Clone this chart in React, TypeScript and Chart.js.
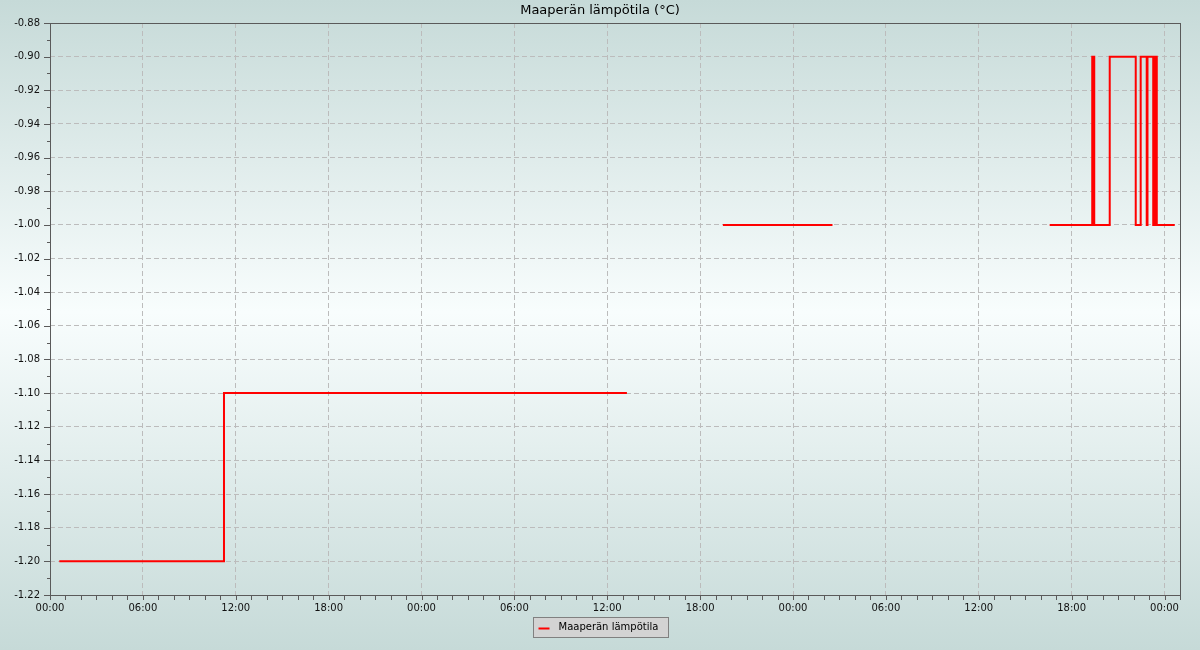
import React, { useEffect, useRef } from 'react';
import { Chart, registerables } from 'chart.js';

Chart.register(...registerables);

const TITLE = 'Maaperän lämpötila (°C)';
const SERIES_LABEL = 'Maaperän lämpötila';

// Hours since 00:00 of the first day (change points of the stepped series)
const times = [0.6, 11.24, 37.27, 37.3, 43.47, 50.55, 50.6, 64.58, 67.33, 67.46, 68.46, 70.14, 70.46, 70.85, 70.9, 71.27, 71.4, 71.5, 72.66];
const values: (number | null)[] = [-1.2, -1.1, -1.1, null, -1.0, -1.0, null, -1.0, -0.9, -1.0, -0.9, -1.0, -0.9, -1.0, -0.9, -1.0, -0.9, -1.0, -1.0];

const X_MIN = 0;
const X_MAX = 73;
const X_MAJOR_HOURS = 6;
const Y_MIN = -1.22;
const Y_MAX = -0.88;
const Y_STEP = 0.01;

const FONT = 'DejaVu Sans';

const isXMajor = (v: number) => Math.round(v) % X_MAJOR_HOURS === 0 && Math.abs(v - Math.round(v)) < 1e-6;
const isYMajor = (v: number) => Math.round(v * 100) % 2 === 0;

const decorPlugin = {
  id: 'decor',
  afterDraw(chart: any) {
    const { ctx, chartArea } = chart;
    const xs = chart.scales.x;
    const ys = chart.scales.y;
    ctx.save();
    // frame
    ctx.strokeStyle = '#5a5a5a';
    ctx.lineWidth = 1;
    ctx.strokeRect(Math.round(chartArea.left) + 0.5, Math.round(chartArea.top) + 0.5,
      Math.round(chartArea.right - chartArea.left), Math.round(chartArea.bottom - chartArea.top));
    // x ticks
    ctx.beginPath();
    xs.ticks.forEach((t: any) => {
      const px = Math.round(xs.getPixelForValue(t.value)) + 0.5;
      ctx.moveTo(px, Math.round(chartArea.bottom) + 0.5);
      ctx.lineTo(px, Math.round(chartArea.bottom) + 5);
    });
    // y ticks
    ys.ticks.forEach((t: any) => {
      const py = Math.round(ys.getPixelForValue(t.value)) + 0.5;
      const len = isYMajor(t.value) ? 6 : 3;
      ctx.moveTo(Math.round(chartArea.left) + 0.5, py);
      ctx.lineTo(Math.round(chartArea.left) - len, py);
    });
    ctx.stroke();

    // title
    ctx.fillStyle = '#000';
    ctx.font = `13px "${FONT}"`;
    ctx.textAlign = 'center';
    ctx.textBaseline = 'middle';
    ctx.fillText(TITLE, chart.width / 2, 11);

    // legend
    const ds = chart.data.datasets[0];
    ctx.font = `10px "${FONT}"`;
    const tw = ctx.measureText(ds.label).width;
    const boxW = Math.round(5 + 11 + 9 + tw + 10);
    const boxH = 20;
    const bx = Math.round(chart.width / 2 - boxW / 2) + 0.5;
    const by = 617.5;
    ctx.fillStyle = '#d3d3d3';
    ctx.fillRect(bx, by, boxW, boxH);
    ctx.strokeStyle = '#808080';
    ctx.strokeRect(bx, by, boxW, boxH);
    ctx.strokeStyle = ds.borderColor;
    ctx.lineWidth = 2;
    ctx.beginPath();
    ctx.moveTo(bx + 5, by + 11);
    ctx.lineTo(bx + 16, by + 11);
    ctx.stroke();
    ctx.fillStyle = '#000';
    ctx.textAlign = 'left';
    ctx.fillText(ds.label, bx + 25, by + 10);
    ctx.restore();
  },
};

export default function App() {
  const ref = useRef<HTMLCanvasElement | null>(null);

  useEffect(() => {
    if (!ref.current) return;
    const data = times.map((t, i) => ({ x: t, y: values[i] }));
    const chart = new Chart(ref.current, {
      type: 'line',
      data: {
        datasets: [
          {
            label: SERIES_LABEL,
            data: data as any,
            borderColor: '#ff0000',
            backgroundColor: '#ff0000',
            borderWidth: 2,
            pointRadius: 0,
            stepped: 'before',
            spanGaps: false,
            fill: false,
          },
        ],
      },
      options: {
        responsive: false,
        animation: false,
        layout: { padding: { top: 23, right: 20, bottom: 0, left: 0 } },
        plugins: {
          legend: { display: false },
          title: { display: false },
          tooltip: { enabled: false },
        },
        scales: {
          x: {
            type: 'linear',
            min: X_MIN,
            max: X_MAX,
            afterFit: (s: any) => { s.height = 55; },
            border: { display: false, dash: [5, 3] },
            grid: {
              color: (c: any) => (c.tick && isXMajor(c.tick.value) && c.tick.value !== X_MIN ? '#bcbcbc' : 'transparent'),
              lineWidth: 1,
              drawTicks: true,
              tickLength: 5,
              tickColor: 'transparent',
            },
            ticks: {
              stepSize: 1,
              autoSkip: false,
              maxRotation: 0,
              padding: 2,
              color: '#111',
              font: { family: FONT, size: 10 },
              callback: (v: any) => {
                const n = Number(v);
                if (!isXMajor(n)) return '';
                const h = Math.round(n) % 24;
                return `${String(h).padStart(2, '0')}:00`;
              },
            },
          },
          y: {
            type: 'linear',
            min: Y_MIN,
            max: Y_MAX,
            afterFit: (s: any) => { s.width = 50; },
            border: { display: false, dash: [5, 3] },
            grid: {
              color: (c: any) => (c.tick && isYMajor(c.tick.value) ? '#bcbcbc' : 'transparent'),
              lineWidth: 1,
              drawTicks: true,
              tickLength: 6,
              tickColor: 'transparent',
            },
            ticks: {
              stepSize: Y_STEP,
              autoSkip: false,
              padding: 4,
              color: '#111',
              font: { family: FONT, size: 10 },
              callback: (v: any) => {
                const n = Number(v);
                return isYMajor(n) ? n.toFixed(2) : '';
              },
            },
          },
        },
      },
      plugins: [decorPlugin],
    });
    return () => chart.destroy();
  }, []);

  return (
    <div
      style={{
        position: 'fixed',
        left: 0,
        top: 0,
        width: 1200,
        height: 650,
        background: 'linear-gradient(to bottom, #c6dad8 0%, #f8fdfd 48%, #c6dad8 100%)',
      }}
    >
      <canvas ref={ref} width={1200} height={650} style={{ display: 'block' }} />
    </div>
  );
}
